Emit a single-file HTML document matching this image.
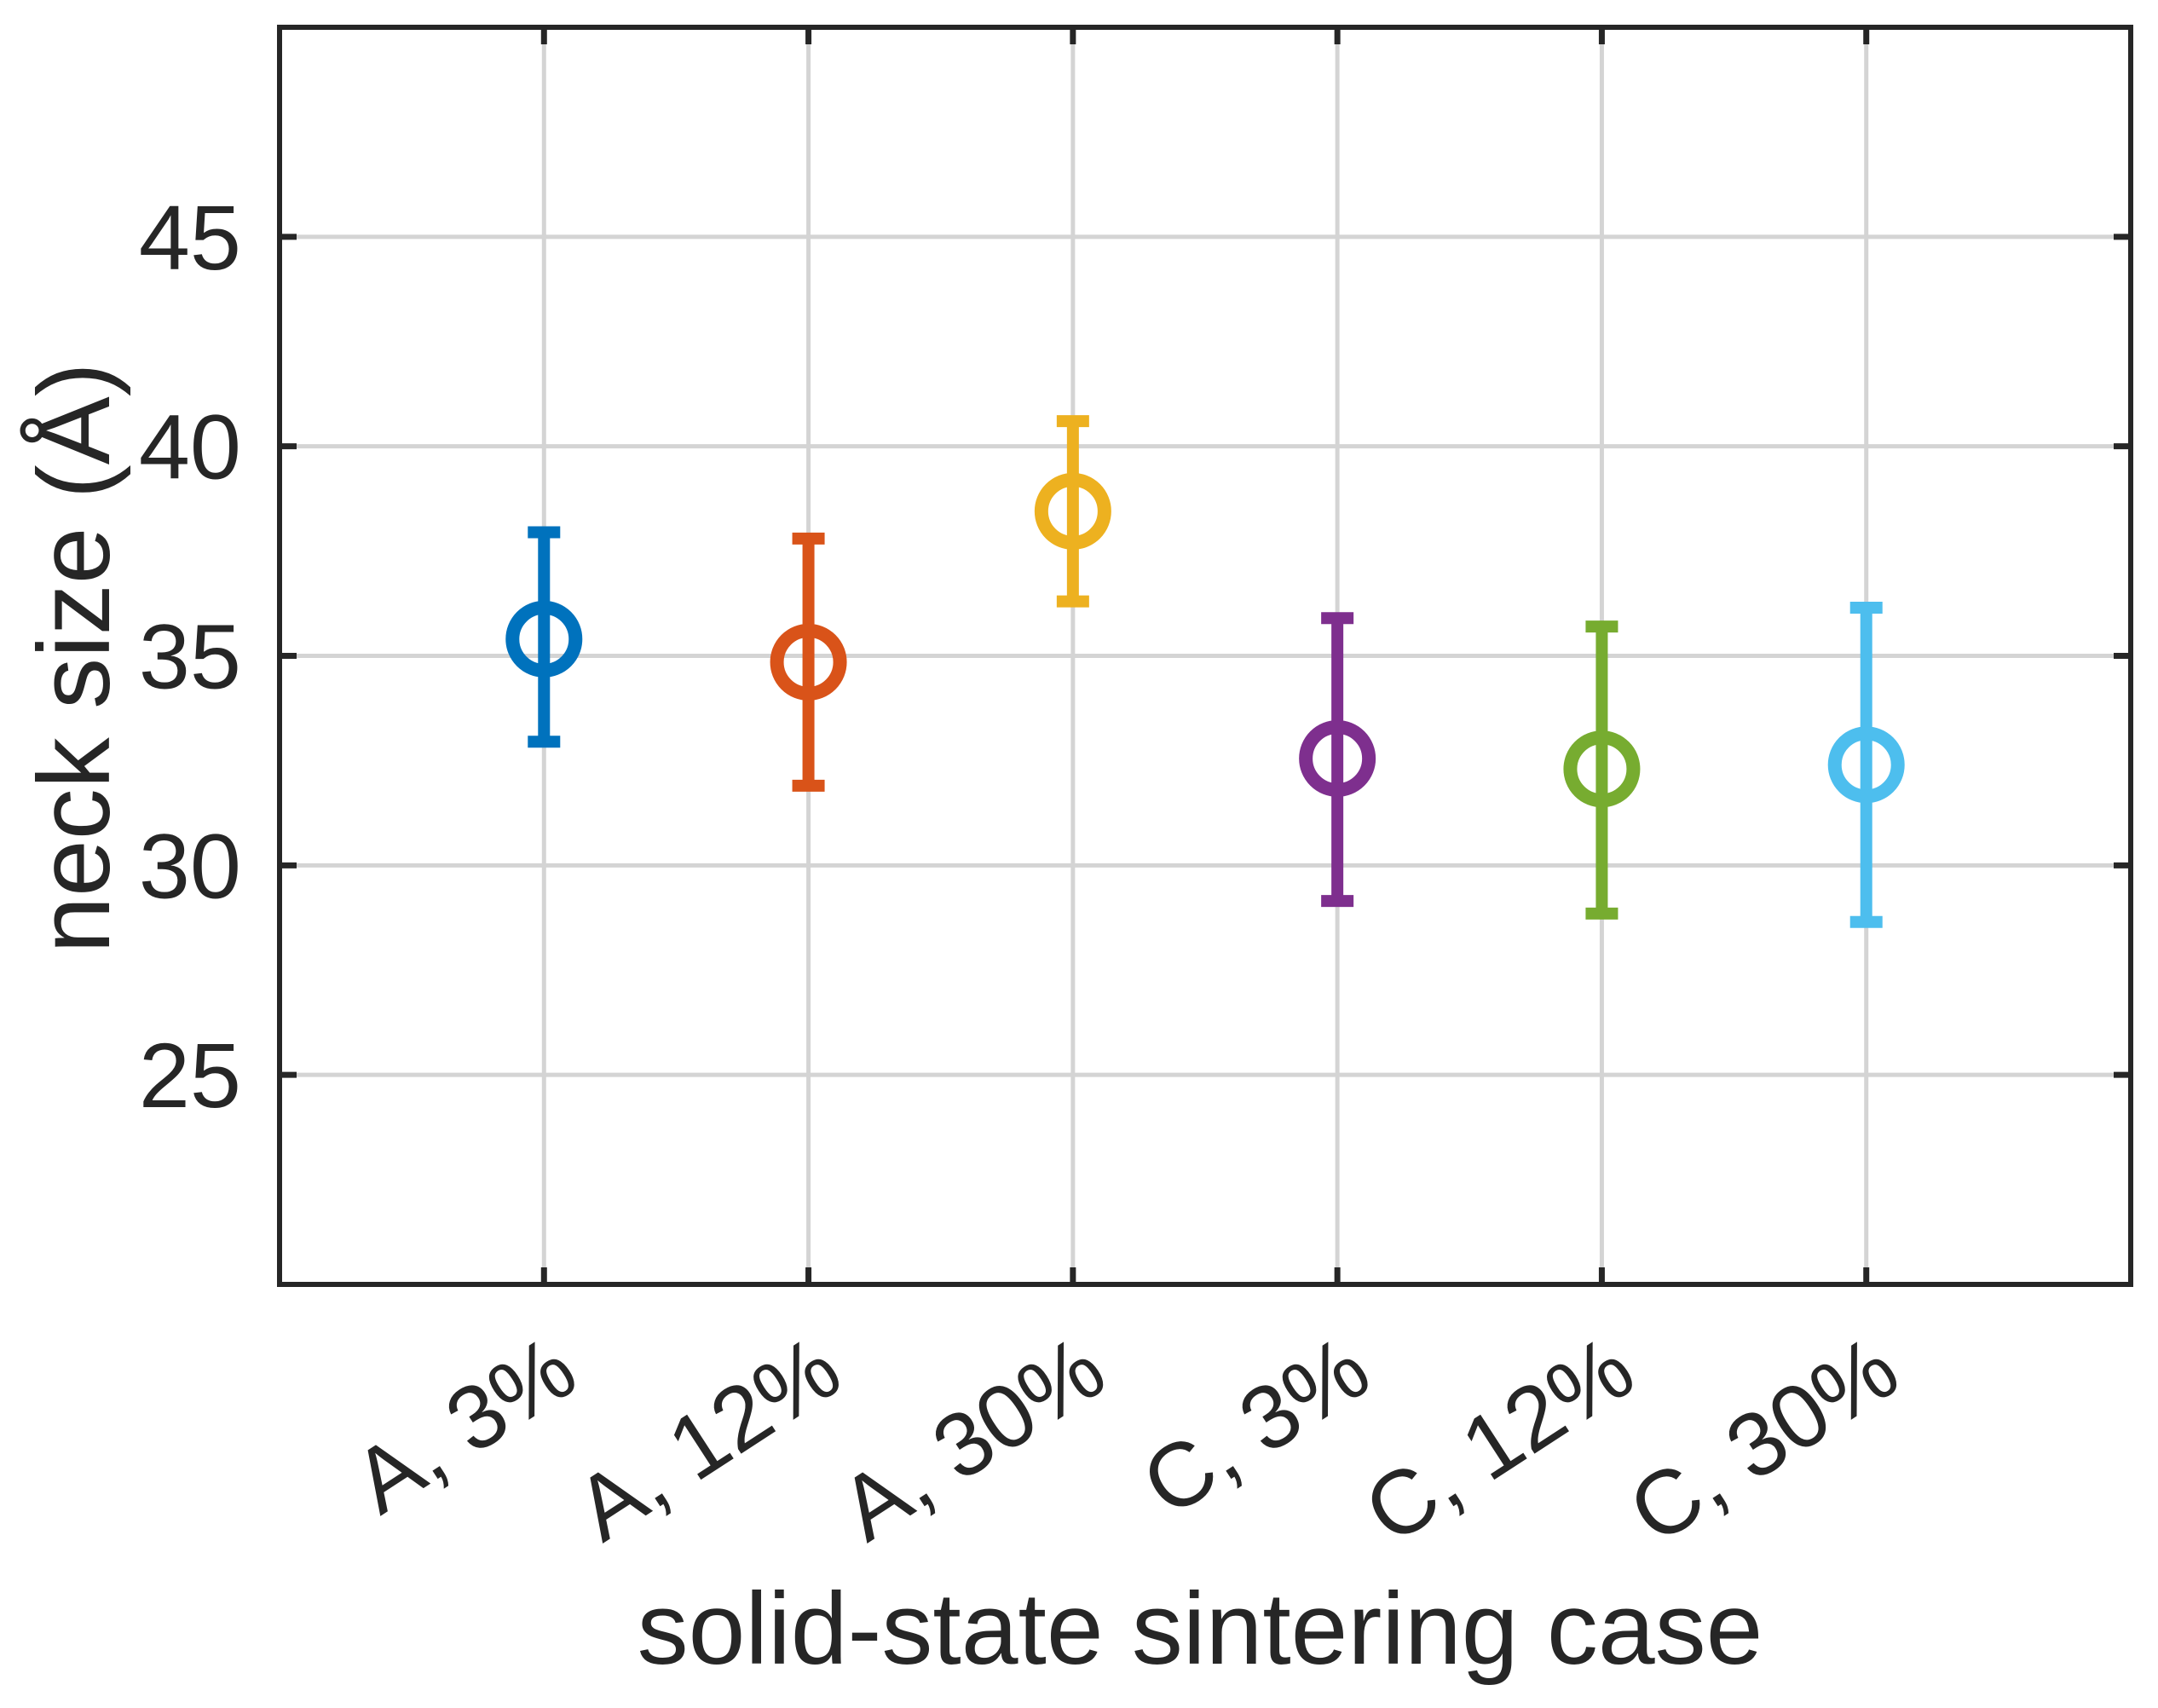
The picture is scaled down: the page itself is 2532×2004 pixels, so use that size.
<!DOCTYPE html>
<html><head><meta charset="utf-8"><style>
html,body{margin:0;padding:0;background:#fff;}
svg{display:block;font-family:"Liberation Sans",Arial,sans-serif;}
</style></head><body>
<svg id="chart" width="2532" height="2004" viewBox="0 0 2532 2004" xmlns="http://www.w3.org/2000/svg">
<g id="grid"></g>
<g id="marks"></g>
<g id="axes"></g>
<text transform="translate(128,772) rotate(-90)" text-anchor="middle" font-size="120" fill="#262626">neck size (Å)</text>
<text x="1408" y="1952" text-anchor="middle" font-size="120" fill="#262626">solid-state sintering case</text>
</svg>
<script>
const categories = ["A, 3%","A, 12%","A, 30%","C, 3%","C, 12%","C, 30%"];
const means = [35.4, 34.85, 38.45, 32.55, 32.3, 32.4];
const upper = [37.95, 37.8, 40.6, 35.9, 35.7, 36.15];
const lower = [32.95, 31.9, 36.3, 29.15, 28.85, 28.65];
const colors = ["#0072BD","#D95319","#EDB120","#7E2F8E","#77AC30","#4DBEEE"];
const yTicks = [25,30,35,40,45];

const L=328,R=2500,T=32,B=1507;
const xMin=0,xMax=7,yMin=20,yMax=50;
const xs=v=>L+(v-xMin)/(xMax-xMin)*(R-L);
const ys=v=>B-(v-yMin)/(yMax-yMin)*(B-T);
const NS="http://www.w3.org/2000/svg";
function mk(tag,attrs,parent){const e=document.createElementNS(NS,tag);for(const k in attrs)e.setAttribute(k,attrs[k]);parent.appendChild(e);return e;}
const grid=document.getElementById('grid'),marks=document.getElementById('marks'),axes=document.getElementById('axes');

yTicks.forEach(t=>{
  const g=mk('line',{x1:L,x2:R,y1:ys(t),y2:ys(t),stroke:'#d4d4d4','stroke-width':5},grid);
  
  
  const tk=mk('path',{d:`M${L},${ys(t)}h20M${R},${ys(t)}h-20`,stroke:'#262626','stroke-width':7},axes);
  
  
  const lb=mk('text',{x:283,y:ys(t)+38,'text-anchor':'end','font-size':108,fill:'#262626'},axes);
  lb.textContent=t;
  
  
});
categories.forEach((c,i)=>{
  const x=xs(i+1);
  const g=mk('line',{x1:x,x2:x,y1:T,y2:B,stroke:'#d4d4d4','stroke-width':5},grid);
  
  
  const tk=mk('path',{d:`M${x},${B}v-20M${x},${T}v20`,stroke:'#262626','stroke-width':7},axes);
  
  
  const lb=mk('text',{transform:`translate(${x+45},${B+118}) rotate(-33)`,'text-anchor':'end','font-size':106,fill:'#262626'},axes);
  lb.textContent=c;
  
  

  const col=colors[i];
  const eb=mk('path',{d:`M${x},${ys(upper[i])}V${ys(lower[i])}M${x-19},${ys(upper[i])}h38M${x-19},${ys(lower[i])}h38`,stroke:col,'stroke-width':14,fill:'none'},marks);
  
  
  const pt=mk('circle',{cx:x,cy:ys(means[i]),r:37,stroke:col,'stroke-width':16,fill:'none'},marks);
  
  
});
const fr=mk('rect',{x:L,y:T,width:R-L,height:B-T,fill:'none',stroke:'#262626','stroke-width':6},axes);


</script>
</body></html>
